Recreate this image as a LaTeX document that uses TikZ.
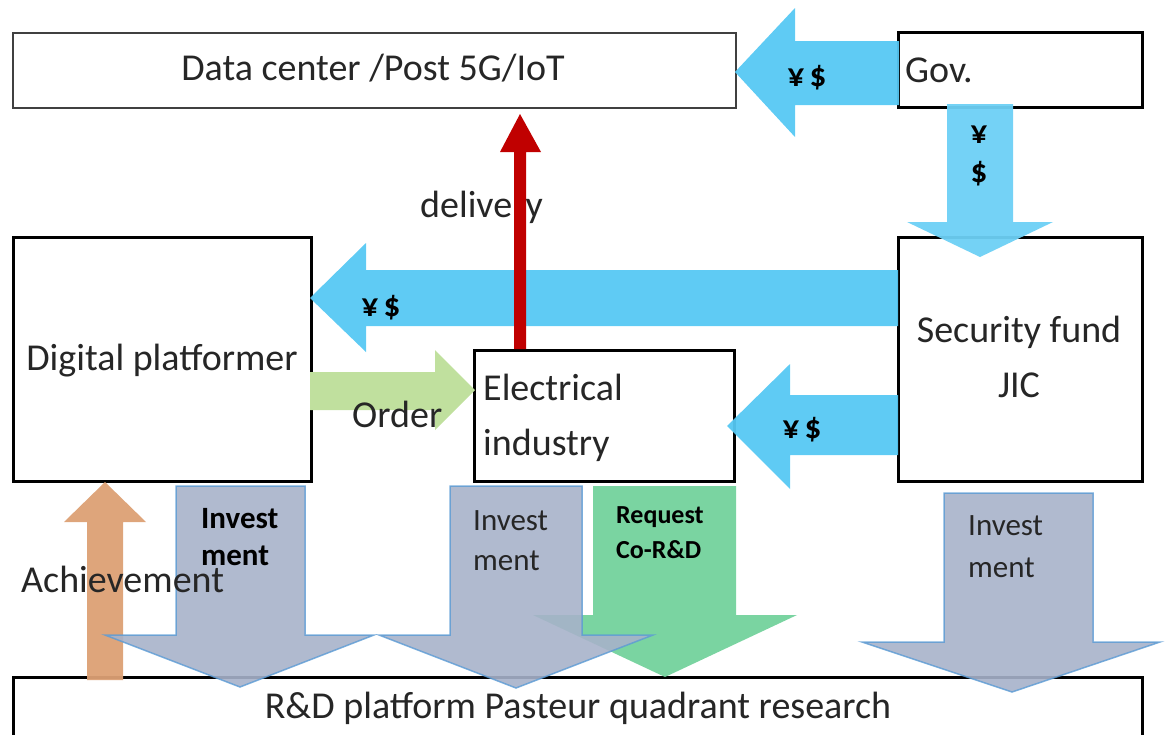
\documentclass[tikz,border=0pt]{standalone}
\usepackage{fontspec}
\setmainfont{Carlito}
\definecolor{skyb}{HTML}{56C8F3}
\definecolor{skyc}{HTML}{6DD0F5}
\definecolor{grayb}{HTML}{A7B2CA}
\definecolor{edgeb}{HTML}{5B9BD5}
\definecolor{greenb}{HTML}{6CCF97}
\definecolor{lgreen}{HTML}{C0E09E}
\definecolor{orangeb}{HTML}{DCA074}
\definecolor{redb}{HTML}{C00000}
\definecolor{txt}{HTML}{262626}
\definecolor{darkg}{HTML}{404040}
\begin{document}
\begin{tikzpicture}[x=1pt,y=-1pt,
  box/.style={draw=black, line width=2.6pt, fill=white, inner sep=0pt, anchor=north west},
  lbl/.style={inner sep=0pt, text=txt, font=\fontsize{38}{44}\selectfont},
  invlbl/.style={inner sep=0pt, text=txt, anchor=base west, font=\fontsize{31}{36}\selectfont},
  invbold/.style={inner sep=0pt, text=black, anchor=base west, font=\bfseries\fontsize{31}{36}\selectfont},
  reqlbl/.style={inner sep=0pt, text=black, anchor=base west, font=\bfseries\fontsize{26}{30}\selectfont},
  money/.style={inner sep=0pt, text=black, anchor=base, font=\bfseries\fontsize{33}{36}\selectfont},
  blk/.style={fill=skyb, fill opacity=0.95},
  blkdown/.style={fill=skyc, fill opacity=0.95},
  inv/.style={fill=grayb, fill opacity=0.9, draw=edgeb, draw opacity=0.8, line width=1.5pt, line join=miter},
  req/.style={fill=greenb, fill opacity=0.9},
  ord/.style={fill=lgreen},
  ach/.style={fill=orangeb, fill opacity=0.95},
  dlv/.style={fill=redb},
]
\useasboundingbox (0,0) rectangle (1166,734);

% boxes
\node[box, draw=darkg, line width=2pt, minimum width=723pt, minimum height=75pt] (dc) at (12,32) {};
\node[box, minimum width=244pt, minimum height=75pt] (gov) at (897,31) {};
\node[box, minimum width=298pt, minimum height=244pt] (dp) at (12,236) {};
\node[box, minimum width=244pt, minimum height=244pt] (sf) at (897,236) {};
\node[box, minimum width=260pt, minimum height=131pt] (ei) at (473,349) {};
\node[box, minimum width=1129pt, minimum height=70pt] (rd) at (12,676) {};

% achievement arrow
\fill[ach] (87,680) -- (87,522) -- (64,522) -- (105,482) -- (146,522) -- (123,522) -- (123,680) -- cycle;

% investment arrows and request arrow
\filldraw[inv] (176,486) -- (305,486) -- (305,635) -- (374,635) -- (240,687) -- (105,635) -- (176,635) -- cycle;
\fill[req] (593,486) -- (736,486) -- (736,615) -- (797,615) -- (665,677) -- (533,615) -- (593,615) -- cycle;
\filldraw[inv] (450,486) -- (582,486) -- (582,635) -- (653,635) -- (516,688) -- (379,635) -- (450,635) -- cycle;
\filldraw[inv] (944,493) -- (1093,493) -- (1093,642) -- (1160,642) -- (1012,692) -- (862,642) -- (944,642) -- cycle;

% money arrows
\fill[blk] (899,41) -- (795,41) -- (795,8) -- (735,72) -- (795,137) -- (795,105) -- (899,105) -- cycle;
\fill[blkdown] (947,104) -- (1013,104) -- (1013,222) -- (1053,222) -- (980,257) -- (907,222) -- (947,222) -- cycle;
\fill[blk] (898,270) -- (366,270) -- (366,243) -- (310,298) -- (366,352) -- (366,326) -- (898,326) -- cycle;
\fill[blk] (898,395) -- (790,395) -- (790,364) -- (727,426) -- (790,489) -- (790,455) -- (898,455) -- cycle;

% order arrow
\fill[ord] (310,372) -- (435,372) -- (435,350) -- (475,390) -- (435,430) -- (435,410) -- (310,410) -- cycle;

% delivery label (behind red arrow)
\node[lbl, anchor=base west] (dlvt) at (420,217) {delivery};
\fill[dlv] (514,349) -- (514,152) -- (500,152) -- (520,114) -- (541,152) -- (526,152) -- (526,349) -- cycle;

% texts
\node[lbl, anchor=base] (dct) at (373,80) {Data center /Post 5G/IoT};
\node[lbl, anchor=base west] (govt) at (905,82) {Gov.};
\node[lbl, anchor=base] (dpt) at (162,370) {Digital platformer};
\node[lbl, anchor=base] (sft1) at (1019,342) {Security fund};
\node[lbl, anchor=base] (sft2) at (1019,397) {JIC};
\node[lbl, anchor=base west] (eit1) at (483,400) {Electrical};
\node[lbl, anchor=base west] (eit2) at (483,455) {industry};
\node[lbl, anchor=base west] (ordt) at (352,427) {Order};
\node[lbl, anchor=base west] (acht) at (21,592) {Achievement};
\node[lbl, anchor=base] (rdt) at (578,718) {R\&D platform Pasteur quadrant research};

\node[money] (m1) at (807,86) {¥\,\$};
\node[money] (m2) at (979,143) {¥};
\node[money] (m3) at (979,182) {\$};
\node[money] (m4) at (381,316) {¥\,\$};
\node[money] (m5) at (802,438) {¥\,\$};

\node[invbold] (i1a) at (201,528) {Invest};
\node[invbold] (i1b) at (201,565) {ment};
\node[invlbl] (i2a) at (473,530) {Invest};
\node[invlbl] (i2b) at (473,570) {ment};
\node[invlbl] (i3a) at (968,535) {Invest};
\node[invlbl] (i3b) at (968,577) {ment};
\node[reqlbl] (r1) at (616,523) {Request};
\node[reqlbl] (r2) at (616,558) {Co-R\&D};
\end{tikzpicture}
\end{document}
